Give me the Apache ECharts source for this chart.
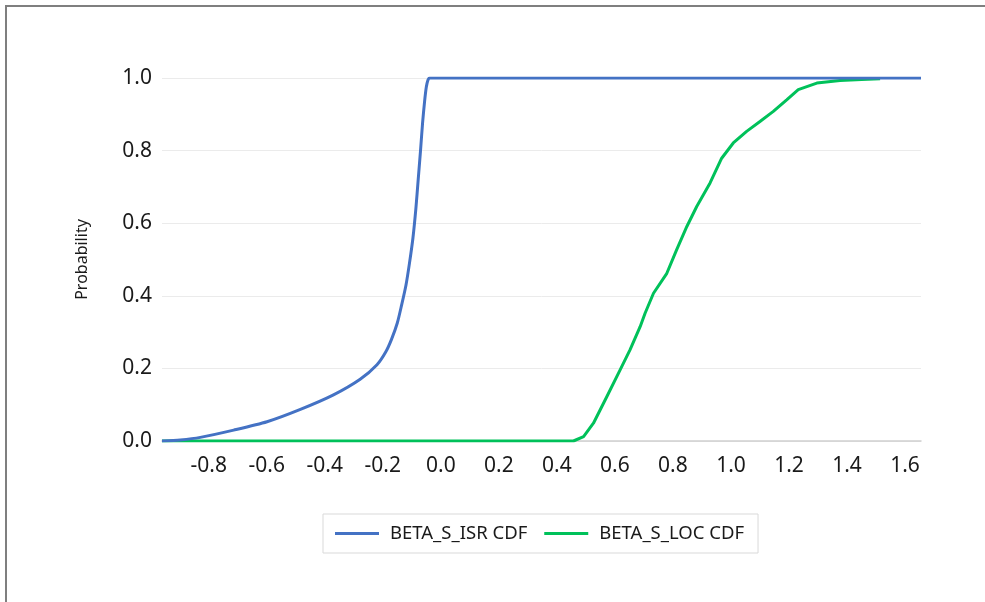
<!DOCTYPE html>
<html>
<head>
<meta charset="utf-8">
<script src="https://cdn.jsdelivr.net/npm/echarts@6/dist/echarts.min.js"></script>
<style>
html,body{margin:0;padding:0;background:#fff;}
#chart{width:985px;height:602px;}
</style>
</head>
<body>
<div id="chart"></div>
<script>
// Axis tick labels
var xTickValues = [-0.8, -0.6, -0.4, -0.2, 0.0, 0.2, 0.4, 0.6, 0.8, 1.0, 1.2, 1.4, 1.6];
var yTickValues = [0.0, 0.2, 0.4, 0.6, 0.8, 1.0];

// Series names
var seriesNames = ['BETA_S_ISR CDF', 'BETA_S_LOC CDF'];

// BETA_S_ISR CDF
var isrX = [-0.961, -0.898, -0.829, -0.714, -0.599, -0.484, -0.370, -0.278, -0.220, -0.190, -0.170, -0.150, -0.135, -0.120, -0.108, -0.096, -0.086, -0.078, -0.070, -0.063, -0.056, -0.050, -0.044, -0.039, 1.655];
var isrY = [0.000, 0.003, 0.010, 0.030, 0.053, 0.087, 0.127, 0.170, 0.210, 0.245, 0.280, 0.325, 0.375, 0.430, 0.490, 0.560, 0.640, 0.720, 0.800, 0.875, 0.935, 0.975, 0.995, 1.000, 1.000];

// BETA_S_LOC CDF
var locX = [-0.961, 0.457, 0.492, 0.526, 0.572, 0.618, 0.652, 0.687, 0.704, 0.733, 0.779, 0.813, 0.848, 0.882, 0.928, 0.968, 1.008, 1.054, 1.100, 1.146, 1.192, 1.232, 1.296, 1.376, 1.450, 1.514];
var locY = [0.000, 0.000, 0.012, 0.049, 0.122, 0.196, 0.251, 0.315, 0.352, 0.407, 0.462, 0.527, 0.591, 0.646, 0.711, 0.779, 0.821, 0.853, 0.880, 0.908, 0.940, 0.968, 0.986, 0.993, 0.996, 0.998];

// Axis ranges
var xMin = -0.961, xMax = 1.655;
var yMin = 0, yMax = 1, yStep = 0.2;

function zip(a, b) { return a.map(function (v, i) { return [v, b[i]]; }); }

var chart = echarts.init(document.getElementById('chart'));
var textColor = '#1a1a1a';
var fontFam = '"Noto Sans", "Open Sans", sans-serif';

chart.setOption({
  animation: false,
  backgroundColor: '#ffffff',
  graphic: [{
    type: 'rect',
    shape: { x: 6, y: 6, width: 1200, height: 900 },
    style: { fill: 'none', stroke: '#7f7f7f', lineWidth: 2 },
    silent: true
  }],
  grid: { left: 162, right: 64, top: 78, bottom: 161, containLabel: false },
  legend: {
    data: seriesNames,
    left: 323,
    top: 514,
    icon: 'rect',
    itemWidth: 44,
    itemHeight: 3,
    itemGap: 17,
    padding: [10, 14, 10, 12],
    borderColor: '#d9d9d9',
    borderWidth: 1,
    textStyle: { color: textColor, fontSize: 18.5, fontFamily: fontFam, padding: [0, 0, 0, 6] }
  },
  xAxis: {
    type: 'value',
    min: xMin,
    max: xMax,
    axisLine: { show: true, onZero: false, lineStyle: { color: '#d0d0d0', width: 1.5 } },
    axisTick: { show: false },
    splitLine: { show: false },
    axisLabel: {
      customValues: xTickValues,
      color: textColor,
      fontSize: 21,
      fontFamily: fontFam,
      margin: 15,
      formatter: function (v) { return v.toFixed(1); }
    }
  },
  yAxis: {
    type: 'value',
    min: yMin,
    max: yMax,
    interval: yStep,
    name: 'Probability',
    nameLocation: 'middle',
    nameGap: 72,
    nameRotate: 90,
    nameTextStyle: { color: textColor, fontSize: 16, fontFamily: fontFam },
    axisLine: { show: false },
    axisTick: { show: false },
    splitLine: { show: true, lineStyle: { color: '#ebebeb', width: 1 } },
    axisLabel: {
      color: textColor,
      fontSize: 21,
      fontFamily: fontFam,
      margin: 10,
      formatter: function (v) { return v.toFixed(1); }
    }
  },
  series: [
    {
      name: seriesNames[0],
      type: 'line',
      data: zip(isrX, isrY),
      showSymbol: false,
      smooth: 0.25,
      z: 4,
      lineStyle: { color: '#4472C4', width: 3 },
      itemStyle: { color: '#4472C4' }
    },
    {
      name: seriesNames[1],
      type: 'line',
      data: zip(locX, locY),
      showSymbol: false,
      smooth: false,
      z: 3,
      lineStyle: { color: '#00C15A', width: 3 },
      itemStyle: { color: '#00C15A' }
    }
  ]
});
</script>
</body>
</html>
